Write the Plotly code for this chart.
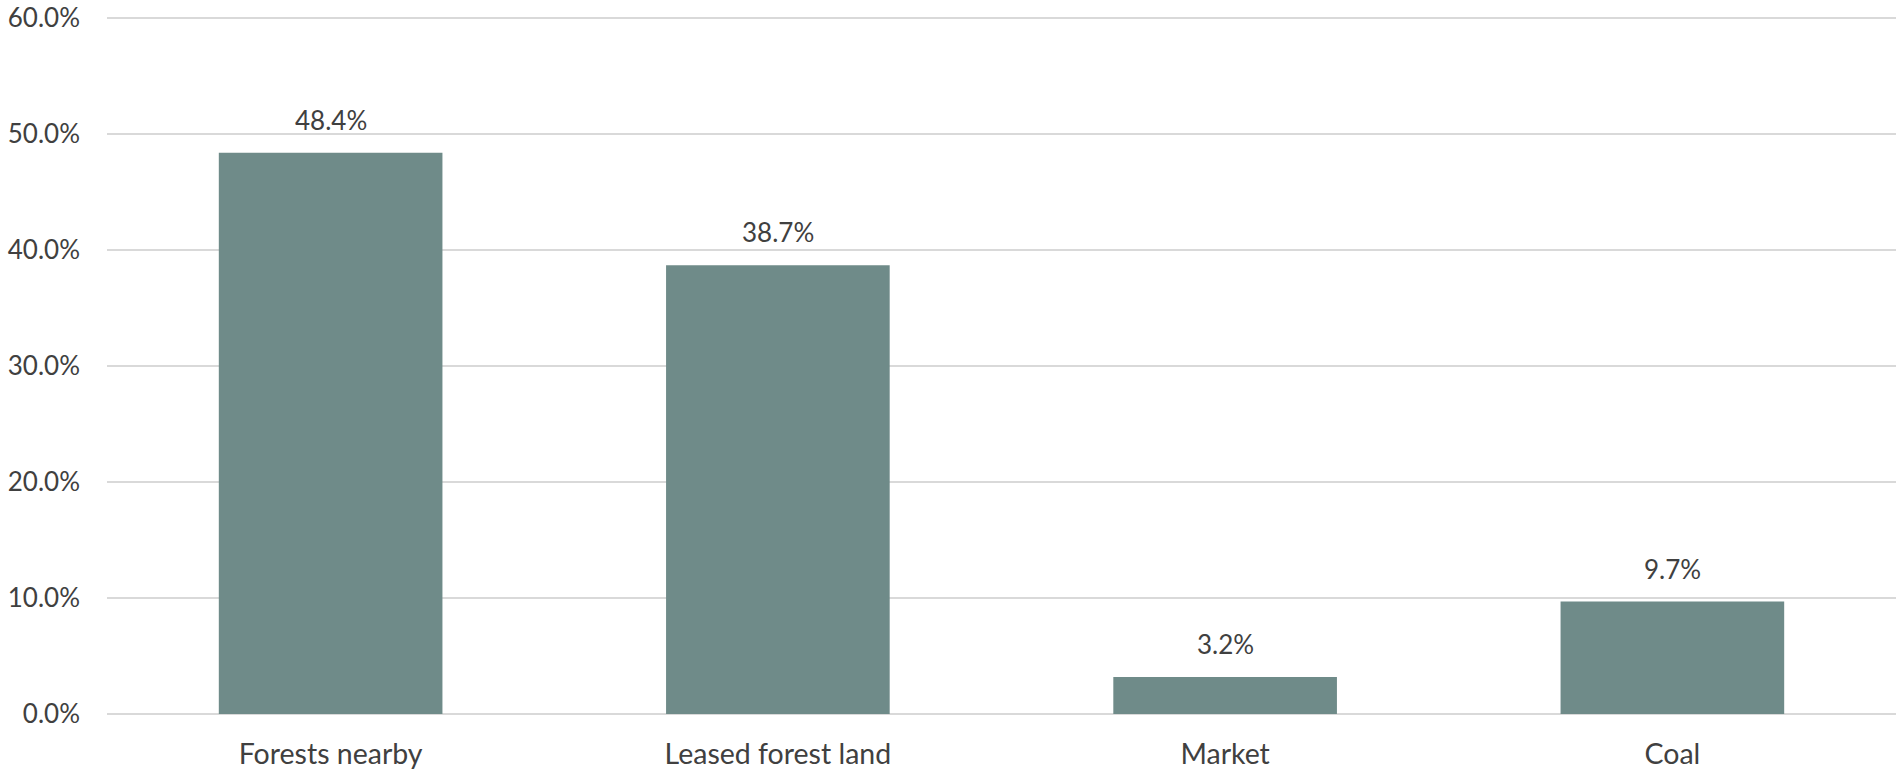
import plotly.graph_objects as go

categories = ["Forests nearby", "Leased forest land", "Market", "Coal"]
values = [48.4, 38.7, 3.2, 9.7]
tick_vals = [0, 10, 20, 30, 40, 50, 60]
tick_text = ["0.0%", "10.0%", "20.0%", "30.0%", "40.0%", "50.0%", "60.0%"]

FONT = "Lato, 'Open Sans', sans-serif"
TXT = "#404040"

fig = go.Figure()
fig.add_trace(go.Bar(
    x=categories, y=values,
    marker=dict(color="#6f8b89", line=dict(width=0)),
    width=0.5,
    hoverinfo="skip",
))

for c, v in zip(categories, values):
    fig.add_annotation(x=c, y=v, text=f"{v:.1f}%", showarrow=False,
                       yanchor="bottom", yshift=15,
                       font=dict(family=FONT, size=26, color=TXT))

fig.update_layout(
    width=1902, height=776,
    margin=dict(l=107, r=6, t=17, b=62),
    paper_bgcolor="white", plot_bgcolor="white",
    showlegend=False,
    font=dict(family=FONT, size=26, color=TXT),
)
fig.update_xaxes(showline=False, showgrid=False, ticks="", automargin=False,
                 ticklabelstandoff=20, tickfont=dict(size=28.5, color=TXT))
fig.update_yaxes(range=[0, 60.1], tickvals=tick_vals, ticktext=tick_text,
                 showgrid=True, gridcolor="#d9d9d9", gridwidth=1.5,
                 zeroline=True, zerolinecolor="#d9d9d9", zerolinewidth=1.5,
                 showline=False, ticks="", ticklabelstandoff=26, automargin=False,
                 ticklabeloverflow="allow",
                 tickfont=dict(size=26, color=TXT))

fig.write_html("out.html", config={"displayModeBar": False},
               post_script="document.body.style.margin='0';")
